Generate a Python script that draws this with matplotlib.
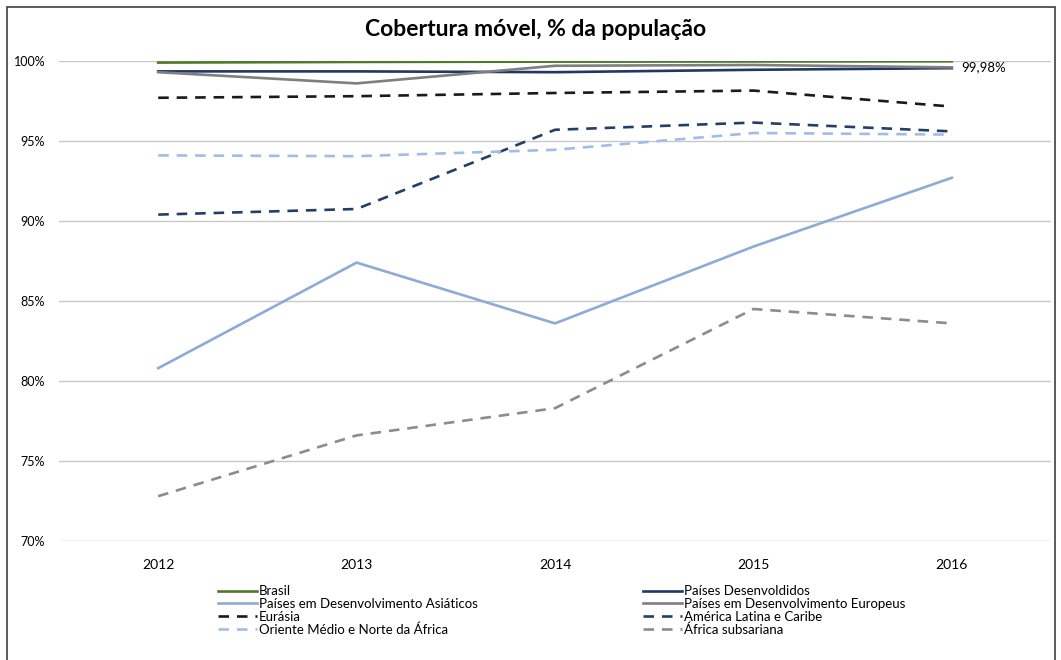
import matplotlib.pyplot as plt
from matplotlib.patches import Rectangle

plt.rcParams['font.family'] = ['Lato', 'DejaVu Sans']

# Coverage data, % of population
anos = ['2012', '2013', '2014', '2015', '2016']
brasil = [99.90, 99.94, 99.96, 99.97, 99.98]
desenvolvidos = [99.35, 99.35, 99.30, 99.45, 99.55]
asiaticos = [80.8, 87.4, 83.6, 88.4, 92.7]
europeus = [99.30, 98.60, 99.70, 99.75, 99.60]
eurasia = [97.7, 97.8, 98.0, 98.15, 97.15]
america_latina = [90.4, 90.75, 95.7, 96.15, 95.6]
oriente_medio = [94.1, 94.05, 94.45, 95.5, 95.4]
africa_sub = [72.8, 76.6, 78.3, 84.5, 83.6]

series = [
    ('Brasil', brasil, '#4e7a2a', '-'),
    ('Países Desenvoldidos', desenvolvidos, '#1f3864', '-'),
    ('Países em Desenvolvimento Asiáticos', asiaticos, '#8eaad6', '-'),
    ('Países em Desenvolvimento Europeus', europeus, '#7f7f7f', '-'),
    ('Eurásia', eurasia, '#1a1a1a', (0, (4, 3))),
    ('América Latina e Caribe', america_latina, '#243f66', (0, (4, 3))),
    ('Oriente Médio e Norte da África', oriente_medio, '#9fbde6', (0, (4, 3))),
    ('África subsariana', africa_sub, '#8c8c8c', (0, (4, 3))),
]

fig = plt.figure(figsize=(10.61, 6.6), dpi=100)
ax = fig.add_axes([0.0556, 0.1803, 0.935, 0.7273])

x = list(range(len(anos)))
handles = []
for nome, vals, cor, estilo in series:
    h, = ax.plot(x, vals, color=cor, linestyle=estilo, linewidth=1.9, label=nome)
    handles.append(h)

# draw Brasil on top
handles[0].set_zorder(5)

ax.set_xlim(-0.5, len(anos) - 0.5)
ax.set_ylim(70, 100)
ax.set_yticks(range(70, 101, 5))
ax.set_yticklabels([f'{v}%' for v in range(70, 101, 5)], fontsize=9)
ax.set_xticks(x)
ax.set_xticklabels(anos, fontsize=10)
ax.tick_params(length=0)
ax.tick_params(axis='x', pad=13)
ax.tick_params(axis='y', pad=10)
ax.grid(axis='y', color='#c8c8c8', linewidth=1)
ax.set_axisbelow(True)
for s in ax.spines.values():
    s.set_visible(False)

ax.annotate('99,98%', (x[-1], brasil[-1]), xytext=(7, -4), textcoords='offset points',
            fontsize=9.5, va='center', ha='left')

fig.text(0.505, 0.955, 'Cobertura móvel, % da população', ha='center', va='center',
         fontsize=16.5, fontweight='bold')

# legend: two columns, each its own legend, rows packed tightly
leg_kw = dict(loc='upper left', frameon=False, fontsize=9.5, handlelength=2.95,
              handletextpad=0.15, labelspacing=0.05, borderpad=0, borderaxespad=0)
col1 = [0, 2, 4, 6]
col2 = [1, 3, 5, 7]
fig.legend([handles[i] for i in col1], [series[i][0] for i in col1],
           bbox_to_anchor=(218 / 1061, 0.113), **leg_kw)
fig.legend([handles[i] for i in col2], [series[i][0] for i in col2],
           bbox_to_anchor=(643 / 1061, 0.113), **leg_kw)

fig.patches.append(Rectangle((0.007, -0.01), 0.987, 0.999, transform=fig.transFigure,
                             fill=False, edgecolor='#404040', linewidth=1.2))

fig.savefig('out.png', dpi=100)
